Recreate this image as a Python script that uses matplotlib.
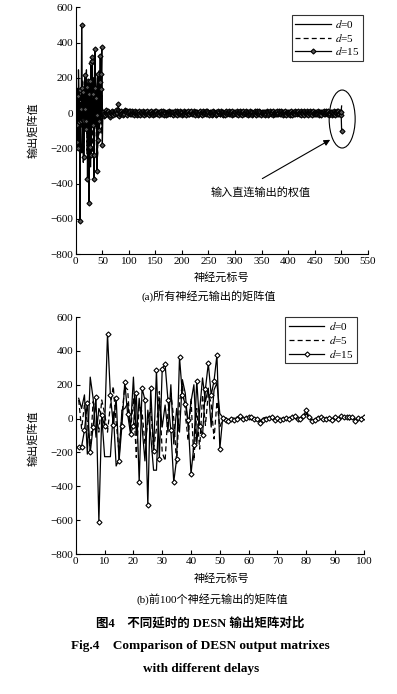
import numpy as np
import matplotlib
matplotlib.use('Agg')
import matplotlib.pyplot as plt
from matplotlib.patches import Ellipse

plt.rcParams['font.family'] = ['Liberation Serif', 'Noto Sans CJK SC']
plt.rcParams['mathtext.fontset'] = 'stix'

# ---------------- data ----------------
# output weights for neurons 1..100
d15_head = [-165, -165, -70, 95, -200, -50, 128, -610, 20, -45,
            500, 140, -37, 122, -252, -43, 215, 25, -90, -43,
            150, -375, 180, 110, -513, 180, -192, 285, -240, 295,
            320, 108, -70, -375, -238, 362, 142, 85, -10, -328,
            -155, 224, -44, -99, 175, 326, 139, 224, 376, -180,
            5, -8, -15, -5, -10, 0, 18, -5, 5, 8,
            10, 0, -5, -25, -10, 0, 5, 12, -8, 5,
            -10, 0, 5, -5, 10, 15, -5, 0, 15, 50,
            10, -15, -8, 5, 10, -5, 0, 5, -10, 8,
            -5, 15, 10, 12, 8, 10, -12, 5, 0, 10]
d0_head = [120, 60, 140, -210, 245, 120, -110, 60, 15, -225,
           -225, -225, 40, -280, -240, 50, 60, 90, -60, 245,
           -100, 120, -50, -250, 50, -100, -305, -305, 120, -50,
           80, -80, 200, -150, 60, -80, 230, 150, -50, 100,
           200, -150, 50, 240, 100, 180, -50, 170, 210, 30,
           8, -5, -12, 3, -6, 10, 12, -2, 6, 4,
           -8, 5, -3, -15, 2, 8, -5, 10, -6, 3,
           -4, 6, 2, -8, 12, 5, -3, 4, 10, 30,
           6, -10, -4, 8, 3, -6, 5, 2, -8, 6,
           -2, 10, 12, 5, -4, 8, -10, 6, 2, 8]
d5_head = [110, -60, 80, -20, -190, 100, 50, -80, 110, 30,
           -80, 80, 190, -20, -200, 20, 190, 170, -80, 120,
           -230, 80, 40, -150, -20, 60, -180, -60, 160, -200,
           -250, 40, 150, 0, -270, 100, 200, 30, -130, 120,
           -250, 60, -180, 140, -40, 150, 90, -120, 100, -50,
           -5, 6, -10, -2, 8, 4, 10, -6, 3, 8,
           2, -4, 6, -12, -6, 4, 8, 5, -10, 2,
           -2, -5, 8, 4, 6, 10, -8, 3, 8, 35,
           4, -8, -6, 3, 8, -2, 4, 6, -5, 2,
           -6, 8, 6, 10, -8, 5, -6, 3, 6, 4]

# neurons 101..500 (thin band around zero)
d15_tail = [4, -6, 9, -3, 11, -8, 2, 7, -10, 5, -2, 12, -7, 3, -9, 6, 1, -5, 10, -4,
            -11, 3, 8, -6, 2, -3, 9, -12, 5, 0, 7, -8, 4, -1, 10, -6, 3, -9, 6, 2,
            -4, 11, -7, 1, 8, -10, 5, -3, 9, -5, 2, 12, -8, 4, -2, 7, -11, 3, 6, -7,
            9, -1, -6, 10, -4, 3, -9, 7, 1, -12, 8, -3, 5, -7, 11, -2, 4, -8, 2, 6,
            -5, 8, -10, 4, 0, 9, -6, 2, -3, 11, -9, 5, 7, -4, 1, -8, 10, -2, 3, -11,
            6, -3, 12, -7, 4, -1, 8, -9, 2, 5, -6, 10, -4, -8, 3, 7, -2, 9, -5, 1,
            -7, 10, -2, 5, -11, 6, 3, -4, 8, -9, 1, 4, -6, 11, -3, 2, -10, 7, -1, 9,
            3, -8, 6, -2, 9, -5, 11, -7, 0, 4, -12, 8, 2, -3, 6, -9, 5, 10, -6, -1,
            8, -4, 1, -10, 7, 3, -6, 12, -2, 5, -8, -3, 9, 1, -7, 4, -11, 6, 2, -5,
            -9, 5, 10, -1, -6, 8, 2, -4, 11, -7, 3, -2, 6, -10, 9, 0, -5, 7, -8, 4,
            2, -7, 9, -3, 5, -11, 8, 1, -6, 10, -4, 3, -9, 7, -2, 12, -5, 4, -1, -8,
            11, -5, 3, -9, 6, 0, -7, 9, -3, 2, 8, -10, 5, -6, 1, 7, -4, 10, -12, 3,
            -2, 9, -6, 4, -8, 10, -1, 5, -11, 7, 2, -4, 8, -7, 3, -9, 6, 1, -5, 11,
            5, -10, 7, 1, -4, 9, -8, 3, 6, -2, -9, 11, -5, 2, 8, -6, 4, -3, 10, -7,
            -6, 2, 11, -8, 3, -5, 9, -1, 4, -12, 7, 5, -3, 10, -7, 1, -9, 8, -4, 6,
            7, -3, -9, 5, 10, -6, 2, -11, 8, -1, 4, -7, 12, -4, 3, 6, -8, -2, 9, -5,
            -1, 8, -5, 11, -9, 4, -2, 6, -7, 9, -10, 3, 1, -6, 10, -3, 7, -12, 5, 2,
            10, -6, 4, -2, 7, -10, 12, -4, 1, -8, 5, 8, -7, 3, -5, 9, -1, 6, -11, 4,
            -3, 6, -11, 8, -1, 5, -7, 10, -5, 3, 9, -2, -8, 6, -4, 11, -9, 2, 7, -6,
            4, -9, 7, -5, 2, 10, -3, 8, -12, 6, -1, -7, 11, -4, 9, -6, 3, 5, -10, 8]
d0_tail = [3, -2, 5, -4, 1, 6, -3, 2, -5, 4, 0, -6, 3, -1, 5, -3, 2, -4, 6, -2,
           -5, 1, 4, -3, 6, -1, 2, -6, 3, 5, -2, 0, -4, 6, -3, 1, 4, -5, 2, -1,
           6, -4, 1, 3, -5, 2, -2, 5, -6, 1, 4, -3, 6, -1, -4, 3, 0, -5, 5, 2,
           -3, 5, -1, -6, 4, 2, -4, 6, -2, 0, 3, -5, 1, 5, -3, -1, 6, -4, 2, 4,
           1, -6, 3, 5, -2, 4, -5, 0, 6, -3, 2, -1, -4, 5, 3, -6, 1, 4, -2, -5,
           5, 0, -3, 2, 6, -4, 1, -2, 4, -6, 3, 5, -1, -3, 2, 6, -5, 1, -4, 3,
           -2, 4, 6, -5, 1, -3, 5, 2, -6, 3, -1, 4, 0, -4, 6, -2, 3, -5, 5, -1,
           4, -1, -5, 3, -2, 6, -4, 1, 2, -6, 5, -3, 4, 1, -5, 2, -2, 6, -3, 0,
           -6, 3, 2, -1, 5, -4, 0, 4, -3, 6, -5, 1, 3, -2, 4, -6, 5, -1, 2, -4,
           2, 5, -4, 6, -3, 1, -6, 3, 5, -2, 0, 4, -5, 2, -1, 6, -3, 4, -6, 1,
           6, -3, 1, -5, 4, 2, -2, 5, -4, -1, 3, 6, -6, 2, 5, -3, 1, -4, 3, -2,
           -1, 4, -6, 2, 0, 5, -3, 6, -5, 3, 1, -2, 4, -6, 2, 5, -4, 0, 6, -3,
           3, -5, 2, 4, -1, -6, 5, 1, -3, 6, -4, 2, 0, -5, 3, -2, 6, -1, 4, -6,
           -4, 6, -2, 1, 5, -3, 3, -6, 4, 0, -5, 5, -1, 2, -4, 6, -2, 3, -6, 1,
           5, -1, 4, -6, 2, 3, -5, 1, 6, -4, 2, -3, 5, 0, -6, 4, -1, 3, -2, 6,
           -3, 2, -6, 5, 1, -4, 6, -2, 3, -5, 4, 1, -1, 6, -3, 2, -5, 5, 0, -4,
           1, 6, -3, -2, 4, -5, 2, 5, -6, 3, -1, 4, -4, 1, 6, -2, 3, -6, 5, -1,
           4, -4, 5, 1, -6, 3, 0, -3, 6, -2, 5, -5, 2, 4, -1, -6, 3, 1, -4, 6,
           -5, 2, 3, -6, 5, -1, 4, -4, 1, 6, -3, 2, -2, 5, -5, 3, 6, -1, 0, -3,
           6, -2, -4, 3, 1, -5, 5, -3, 2, 4, -6, 1, 3, -2, 6, -4, 0, 5, -1, 4]
d5_tail = [-2, 4, -5, 1, 3, -6, 2, 5, -3, 0, 6, -1, -4, 3, 2, -5, 4, -2, 1, 6,
           3, -6, 1, 4, -2, 5, -4, 0, 6, -3, 1, 2, -5, 4, -1, 6, -3, 2, -6, 5,
           -4, 2, 6, -1, -5, 3, 1, -3, 4, 5, -6, 2, -2, 6, -4, 1, 3, -5, 0, 4,
           5, -3, 2, -6, 4, 0, -2, 6, -5, 3, 1, -4, 5, -1, 2, -6, 4, 3, -3, 1,
           -1, 6, -4, 2, 5, -5, 3, -2, 1, -6, 4, 6, -3, 0, -4, 5, 2, -1, 6, -5,
           2, -4, 5, 3, -1, 6, -6, 1, -3, 4, 2, -5, 6, -2, 0, 3, -4, 5, -6, 2,
           6, 1, -3, -5, 4, 2, -1, 5, -4, 6, -2, 3, -6, 1, 5, -3, 0, 4, -5, 3,
           -3, 5, 0, 6, -6, 1, 4, -2, 3, -5, 6, -1, 2, -4, 5, 1, -6, 3, 4, -2,
           1, -2, 6, -4, 3, -3, 5, 2, -6, 0, 4, -5, 1, 6, -2, 3, -4, -1, 5, 2,
           -6, 4, 2, -1, 5, 3, -5, 6, -2, 1, -3, 4, 5, -6, 2, -1, 6, -4, 3, 0,
           4, -5, 1, 6, -3, 2, -2, -6, 5, 3, -4, 1, 6, -1, -5, 4, 2, -3, 1, 5,
           -2, 3, -6, 4, 1, -4, 6, 0, -5, 2, 5, -3, 1, -6, 4, 3, -1, 6, -2, -4,
           5, 0, 3, -5, 6, -2, 1, 4, -3, -6, 2, 5, -4, 1, 3, -5, 6, 2, -1, -3,
           -1, 6, -4, 2, -3, 5, 0, -6, 4, 1, -2, 3, 6, -5, -1, 4, -3, 2, 5, -6,
           3, -3, 5, 1, -6, 4, -1, 2, 6, -4, 0, -5, 3, 4, -2, 6, -6, 1, -3, 5,
           -5, 2, -1, 6, 3, -4, 5, -3, 1, 2, -6, 4, -2, 5, 0, -1, 3, -5, 6, -4,
           6, -1, 4, -3, 2, 0, -5, 6, -4, 3, 1, -2, 5, -6, 2, 4, -3, 1, -1, 3,
           -4, 5, -2, 1, 6, -6, 3, -1, 2, 5, -5, 0, 4, -3, 6, -2, 1, -4, 3, 6,
           2, -6, 4, 3, -2, 1, -4, 5, -5, 6, 2, -3, 0, 1, -6, 5, 4, -1, -3, 2,
           -3, 1, 6, -5, 0, 4, -2, 3, -6, 2, 5, -4, 1, -1, 3, -5, 6, 2, -4, 1]

# neuron 501: direct input-to-output weight
d15_input = [-100]
d0_input = [40]
d5_input = [20]

d15 = np.array(d15_head + d15_tail + d15_input, float)
d0 = np.array(d0_head + d0_tail + d0_input, float)
d5 = np.array(d5_head + d5_tail + d5_input, float)
n = np.arange(1, len(d15) + 1)

labels = ['$d$=0', '$d$=5', '$d$=15']

# ---------------- plotting ----------------
fig = plt.figure(figsize=(3.97, 6.94), dpi=100, facecolor='white')
ax1 = fig.add_axes([0.191, 0.634, 0.735, 0.3555])
ax2 = fig.add_axes([0.191, 0.2017, 0.7254, 0.3415])

cjk = ['Liberation Serif', 'Noto Sans CJK SC']


def draw(ax, m, ms, mfc):
    ax.plot(n[:m], d0[:m], color='black', lw=0.9, label=labels[0])
    ax.plot(n[:m], d5[:m], color='black', lw=0.9, ls=(0, (4, 2.5)), label=labels[1])
    ax.plot(n[:m], d15[:m], color='black', lw=0.9, marker='D', ms=ms,
            mfc=mfc, mec='black', mew=0.8, label=labels[2])
    for s in ['top', 'right']:
        ax.spines[s].set_visible(False)
    for s in ['left', 'bottom']:
        ax.spines[s].set_linewidth(0.8)
    ax.tick_params(direction='in', length=3, width=0.8, labelsize=8, pad=2)
    ax.set_ylim(-800, 600)
    ax.set_yticks(np.arange(-800, 601, 200))
    leg = ax.legend(loc='upper right', fontsize=8, frameon=True, fancybox=False,
                    edgecolor='black', handlelength=3.2, borderpad=0.3,
                    labelspacing=0.15, handletextpad=0.4, borderaxespad=0)
    leg.get_frame().set_linewidth(0.8)
    return leg


leg1 = draw(ax1, len(n), 2.6, '#555555')
ax1.set_xlim(0, 550)
ax1.set_xticks(np.arange(0, 551, 50))
leg1.set_bbox_to_anchor((0.985, 0.97), transform=ax1.transAxes)

ax1.add_patch(Ellipse((502, -34), 49, 329, fill=False, ec='black', lw=0.8))
ax1.annotate('', xy=(484, -144), xytext=(347, -380),
             arrowprops=dict(arrowstyle='-|>', color='black', lw=0.8,
                             mutation_scale=9))
ax1.text(349, -448, '输入直连输出的权值', family=cjk, fontsize=8,
         ha='center', va='center')

leg2 = draw(ax2, 100, 2.6, 'white')
ax2.set_xlim(0, 100)
ax2.set_xticks(np.arange(0, 101, 10))
leg2.set_bbox_to_anchor((0.975, 1.0), transform=ax2.transAxes)

# axis labels and captions
fig.text(33 / 397, 1 - 130 / 694, '输出矩阵值', rotation=90, family=cjk,
         fontsize=8, ha='center', va='center')
fig.text(33 / 397, 1 - 438 / 694, '输出矩阵值', rotation=90, family=cjk,
         fontsize=8, ha='center', va='center')
fig.text(221 / 397, 1 - 277 / 694, '神经元标号', family=cjk, fontsize=8,
         ha='center', va='center')
fig.text(221 / 397, 1 - 578 / 694, '神经元标号', family=cjk, fontsize=8,
         ha='center', va='center')
fig.text(209 / 397, 1 - 296 / 694, '(a)所有神经元输出的矩阵值', family=cjk,
         fontsize=8, ha='center', va='center')
fig.text(212 / 397, 1 - 599 / 694, '(b)前100个神经元输出的矩阵值', family=cjk,
         fontsize=8, ha='center', va='center')
fig.text(200 / 397, 1 - 623 / 694, '图4    不同延时的 DESN 输出矩阵对比', family=cjk,
         fontsize=9, fontweight='bold', ha='center', va='center')
fig.text(200 / 397, 1 - 646 / 694, 'Fig.4    Comparison of DESN output matrixes',
         family='Liberation Serif', fontsize=9.5, fontweight='bold',
         ha='center', va='center')
fig.text(201 / 397, 1 - 669 / 694, 'with different delays',
         family='Liberation Serif', fontsize=9.5, fontweight='bold',
         ha='center', va='center')

fig.savefig('out.png', dpi=100, facecolor='white')
